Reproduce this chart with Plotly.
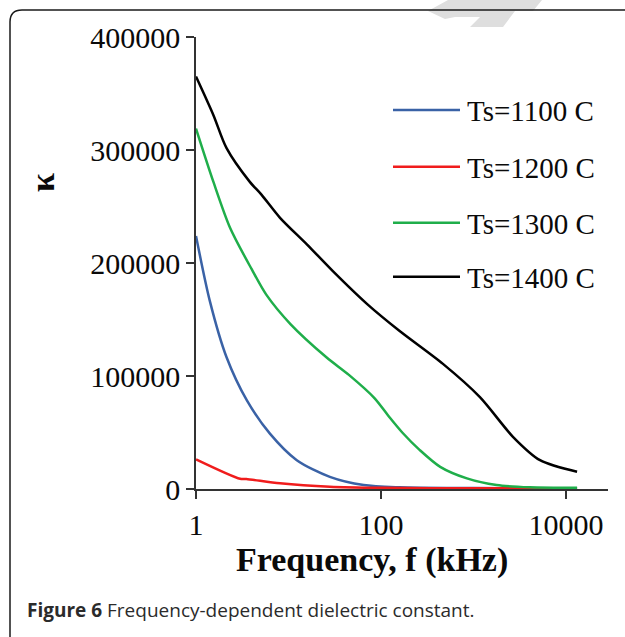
import plotly.graph_objects as go

# ---- data ----
freq_1100 = [1, 1.41, 2.14, 3.55, 6.3, 12.3, 28, 65, 158, 1000, 13200]
k_1100 = [224000, 166500, 116600, 78400, 49000, 25500, 10800, 3500, 1500, 800, 500]

freq_1200 = [1, 3.0, 3.5, 8.1, 28, 100, 1000, 13200]
k_1200 = [26200, 9000, 8800, 5000, 2000, 1000, 700, 600]

freq_1300 = [1, 1.54, 2.34, 4.0, 5.75, 10.5, 25.7, 45, 85, 125, 170, 263, 437, 850, 1780,
             4070, 13200]
k_1300 = [319000, 272000, 231000, 194500, 172000, 146000, 116600, 101000, 80500, 63000,
          50000, 34400, 19600, 9400, 3500, 1500, 1000]

freq_1400 = [1, 1.54, 2.14, 3.8, 5.1, 8.1, 15.8, 30, 71, 158, 468, 1175, 2690, 5250, 13200]
k_1400 = [365000, 331000, 301600, 272000, 260500, 240000, 216500, 193000, 163600, 140000,
          110700, 81300, 46000, 25500, 15200]

series_names = ["Ts=1100 C", "Ts=1200 C", "Ts=1300 C", "Ts=1400 C"]
series_colors = ["#3a62a6", "#f01c1c", "#1fae4a", "#000000"]

x_tickvals = [1, 100, 10000]
x_ticktext = ["1", "100", "10000"]
y_tickvals = [0, 100000, 200000, 300000, 400000]
y_ticktext = ["0", "100000", "200000", "300000", "400000"]

# ---- layout geometry (pixels) ----
W, H = 625, 637
L, R, T, B = 196, 608, 37, 489


def px(x):
    return (x - L) / (R - L)


def py(y):
    return (B - y) / (B - T)


fig = go.Figure()
data = [(freq_1100, k_1100), (freq_1200, k_1200), (freq_1300, k_1300), (freq_1400, k_1400)]
for (fx, fy), name, col in zip(data, series_names, series_colors):
    fig.add_trace(go.Scatter(x=fx, y=fy, mode="lines", name=name,
                             line=dict(color=col, width=2.5, shape="spline", smoothing=0.8),
                             showlegend=False))

serif = "Liberation Serif"
axis_common = dict(showline=True, linecolor="#333333", linewidth=1.5, ticks="outside",
                   ticklen=8, tickwidth=1.5, tickcolor="#333333", showgrid=False, zeroline=False,
                   tickfont=dict(family=serif, size=30, color="#0a0a0a"))

fig.update_xaxes(type="log", range=[0, 4.455], tickvals=x_tickvals, ticktext=x_ticktext,
                 **axis_common)
fig.update_yaxes(range=[0, 400000], tickvals=y_tickvals, ticktext=y_ticktext, **axis_common)

shapes = []
annotations = []

# faint watermark fragment at top
wm = [(428, 11), (448, 0), (542, 0), (533, 11), (515, 11), (503, 27), (470, 27),
      (480, 17), (455, 17), (445, 19)]
wm_path = "M " + " L ".join(f"{px(a)},{py(b)}" for a, b in wm) + " Z"
shapes.append(dict(type="path", xref="paper", yref="paper", path=wm_path,
                   fillcolor="#dedede", line=dict(width=0), layer="below"))

# outer rounded box
r = 12
box_path = (f"M {px(10)},{py(660)} L {px(10)},{py(10 + r)} "
            f"Q {px(10)},{py(10)} {px(10 + r)},{py(10)} L {px(660)},{py(10)}")
shapes.append(dict(type="path", xref="paper", yref="paper", path=box_path,
                   line=dict(color="#1a1a1a", width=1.5)))

# legend (custom, long line samples)
leg_y = [110, 166.7, 222.7, 276.7]
for name, col, ly in zip(series_names, series_colors, leg_y):
    shapes.append(dict(type="line", xref="paper", yref="paper", x0=px(393), x1=px(460),
                       y0=py(ly), y1=py(ly), line=dict(color=col, width=2.5)))
    annotations.append(dict(xref="paper", yref="paper", x=px(465), y=py(ly + 1),
                            xanchor="left", yanchor="middle", text=name, showarrow=False,
                            font=dict(family=serif, size=29, color="#0a0a0a")))

# axis titles
annotations.append(dict(xref="paper", yref="paper", x=px(372), y=py(560), xanchor="center",
                        yanchor="middle", text="<b>Frequency, f (kHz)</b>", showarrow=False,
                        font=dict(family=serif, size=34, color="#0a0a0a")))
annotations.append(dict(xref="paper", yref="paper", x=px(43), y=py(183), xanchor="center",
                        yanchor="middle", text="<b>κ</b>", textangle=-90, showarrow=False,
                        font=dict(family=serif, size=34, color="#0a0a0a")))

# caption
annotations.append(dict(xref="paper", yref="paper", x=px(25), y=py(610), xanchor="left",
                        yanchor="middle",
                        text="<b>Figure 6</b> Frequency-dependent dielectric constant.",
                        showarrow=False, font=dict(family="Open Sans", size=19, color="#2b2b2b")))

fig.update_layout(width=W, height=H, margin=dict(l=L, r=W - R, t=T, b=H - B, pad=0),
                  paper_bgcolor="white", plot_bgcolor="white", shapes=shapes,
                  annotations=annotations, showlegend=False)

fig.write_html("out.html", config={"displayModeBar": False},
               post_script="document.body.style.margin='0';")
